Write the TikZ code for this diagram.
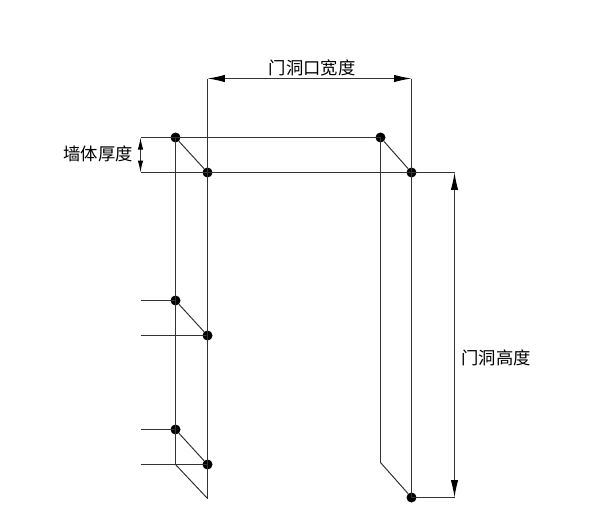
\documentclass[tikz,border=0pt]{standalone}
\usepackage{fontspec}
\newfontfamily\cjk{Noto Sans CJK SC}
\usetikzlibrary{arrows.meta}
\definecolor{linegray}{HTML}{333333}
\tikzset{
  dot/.style={circle,fill=black,inner sep=0pt,minimum size=7.5pt},
  wall/.style={draw=linegray,line width=0.75pt},
  dim/.style={wall,{Latex[length=13pt,width=5.5pt,black]}-{Latex[length=13pt,width=5.5pt,black]}},
  dimsmall/.style={wall,{Latex[length=9pt,width=4pt,black]}-{Latex[length=9pt,width=4pt,black]}},
  label/.style={font=\cjk\fontsize{13}{15}\selectfont,text=black,inner sep=0pt}
}
\begin{document}
\begin{tikzpicture}[x=0.75pt,y=-0.75pt]
\useasboundingbox (0,0) rectangle (600,521);
% corners of the opening
\node[dot] (backTL) at (175.5,137.5) {};
\node[dot] (frontTL) at (207.5,172.5) {};
\node[dot] (backTR) at (380.5,137.5) {};
\node[dot] (frontTR) at (411.5,172.5) {};
\node[dot] (frontBR) at (411.5,497.5) {};
\node[dot] (backA) at (175.5,300.5) {};
\node[dot] (frontA) at (207.5,335.5) {};
\node[dot] (backB) at (175.5,429.5) {};
\node[dot] (frontB) at (207.5,464.5) {};
% free ends
\coordinate (dimTL) at (207.5,78.5);
\coordinate (dimTR) at (411.5,78.5);
\coordinate (wallT) at (140.5,137.5);
\coordinate (wallB) at (140.5,172.5);
\coordinate (highT) at (454.5,172.5);
\coordinate (highB) at (454.5,497.5);
\coordinate (stubA) at (140.5,300.5);
\coordinate (stubB) at (140.5,335.5);
\coordinate (stubC) at (140.5,429.5);
\coordinate (stubD) at (140.5,464.5);
\coordinate (backBL) at (175.5,464.5);
\coordinate (frontBL) at (207.5,498.5);
\coordinate (backBR) at (380.5,462.5);
% verticals
\draw[wall] (dimTL) -- (frontBL);
\draw[wall] (backTL.center) -- (backBL);
\draw[wall] (dimTR) -- (frontBR.center);
\draw[wall] (backTR.center) -- (backBR);
% horizontals
\draw[wall] (wallT) -- (backTR.center);
\draw[wall] (wallB) -- (highT);
\draw[wall] (frontBR.center) -- (highB);
\draw[wall] (stubA) -- (backA.center);
\draw[wall] (stubB) -- (frontA.center);
\draw[wall] (stubC) -- (backB.center);
\draw[wall] (stubD) -- (frontB.center);
% diagonals
\draw[wall] (backTL) -- (frontTL);
\draw[wall] (backTR) -- (frontTR);
\draw[wall] (backA) -- (frontA);
\draw[wall] (backB) -- (frontB);
\draw[wall] (backBL) -- (frontBL);
\draw[wall] (backBR) -- (frontBR);
% dimensions
\draw[dim] (dimTL) -- (dimTR);
\draw[dim] (highT) -- (highB);
\draw[dimsmall] (wallT) -- (wallB);
\node[label] (widthText) at (312,68) {门洞口宽度};
\node[label] (wallText) at (98,154) {墙体厚度};
\node[label] (highText) at (496,358) {门洞高度};
\end{tikzpicture}
\end{document}
